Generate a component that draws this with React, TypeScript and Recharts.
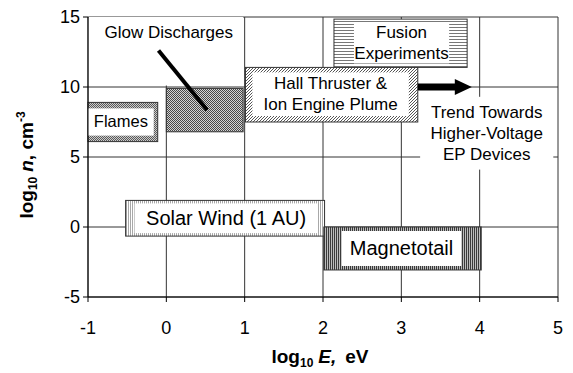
import React from 'react';
import {
  ComposedChart,
  Scatter,
  XAxis,
  YAxis,
  CartesianGrid,
  ReferenceArea,
  ReferenceLine,
  ReferenceDot,
  Label,
} from 'recharts';

const FONT = '"Liberation Sans", Arial, sans-serif';

const xTicks = [-1, 0, 1, 2, 3, 4, 5];
const yTicks = [-5, 0, 5, 10, 15];

// plasma regimes, extents in log10 E (eV) and log10 n (cm^-3)
const regimeKeys = ['flames', 'glow', 'hall', 'fusion', 'solar', 'magneto'];
const regimeLabels = [
  ['Flames'],
  [],
  ['Hall Thruster &', 'Ion Engine Plume'],
  ['Fusion', 'Experiments'],
  ['Solar Wind (1 AU)'],
  ['Magnetotail'],
];
const energyLo = [-1, 0, 1.01, 2.14, -0.52, 2.01];
const energyHi = [-0.11, 0.98, 3.21, 3.84, 2.02, 4.02];
const densityLo = [6.1, 6.8, 7.5, 11.4, -0.65, -3.07];
const densityHi = [8.9, 9.9, 11.4, 14.85, 1.9, 0];

// annotations
const glowLabel = 'Glow Discharges';
const glowLabelAt = { e: 0.03, n: 13.9 };
const glowBoxE = [-0.99, 0.98];
const glowBoxN = [10.1, 15];
const glowPointerE = [-0.1, 0.52];
const glowPointerN = [12.6, 8.35];

const trendLines = ['Trend Towards', 'Higher-Voltage', 'EP Devices'];
const trendBoxE = [3.24, 4.94];
const trendBoxN = [4.1, 9.3];
const trendArrowE = [3.21, 3.9];
const trendArrowN = [10, 10];

// styling per regime: pattern, inner white inset [l, t, r, b], font size
const boxStyle: Record<string, { pattern: string; inset: number[] | null; font: number }> = {
  flames: { pattern: 'dots', inset: [0, 6, 4, 6], font: 16.5 },
  glow: { pattern: 'checker', inset: null, font: 17 },
  hall: { pattern: 'diag', inset: [7, 5, 9, 6], font: 17 },
  fusion: { pattern: 'hlines', inset: [20, 4, 18, 4], font: 17 },
  solar: { pattern: 'vlight', inset: [9, 3, 7, 3], font: 20 },
  magneto: { pattern: 'vdark', inset: [18, 4, 20, 4], font: 20 },
};

function PatternDef({ id, kind }: { id: string; kind: string }) {
  if (kind === 'dots' || kind === 'checker') {
    const bg = kind === 'dots' ? '#cccccc' : '#d4d4d4';
    const fg = kind === 'dots' ? '#5a5a5a' : '#474747';
    return (
      <pattern id={id} width={2} height={2} patternUnits="userSpaceOnUse">
        <rect width={2} height={2} fill={bg} />
        <rect x={0} y={0} width={1} height={1} fill={fg} />
        <rect x={1} y={1} width={1} height={1} fill={fg} />
      </pattern>
    );
  }
  if (kind === 'diag') {
    return (
      <pattern id={id} width={3} height={3} patternUnits="userSpaceOnUse">
        <rect width={3} height={3} fill="#fff" />
        <path d="M-1,1 L1,-1 M0,3 L3,0 M2,4 L4,2" stroke="#555" strokeWidth={1} />
      </pattern>
    );
  }
  if (kind === 'hlines') {
    return (
      <pattern id={id} width={3} height={3} patternUnits="userSpaceOnUse">
        <rect width={3} height={3} fill="#fff" />
        <rect x={0} y={0} width={3} height={1} fill="#777" />
      </pattern>
    );
  }
  const dark = kind === 'vdark';
  return (
    <pattern id={id} width={2} height={2} patternUnits="userSpaceOnUse">
      <rect width={2} height={2} fill={dark ? '#bcbcbc' : '#fff'} />
      <rect x={0} y={0} width={1} height={2} fill={dark ? '#3a3a3a' : '#a8a8a8'} />
    </pattern>
  );
}

function textBlock(lines: string[], cx: number, cy: number, font: number, lh: number) {
  return lines.map((t, i) => (
    <text
      key={t}
      x={cx}
      y={cy + (i - (lines.length - 1) / 2) * lh + font * 0.33}
      textAnchor="middle"
      fontSize={font}
      fontFamily={FONT}
      fill="#000"
    >
      {t}
    </text>
  ));
}

function regimeShape(key: string, lines: string[]) {
  const st = boxStyle[key];
  return (p: any) => {
    const { x, y, width, height } = p;
    const pid = `pat-${key}`;
    let inner = null;
    if (st.inset) {
      const [l, t, r, b] = st.inset;
      const ix = x + l;
      const iy = y + t;
      const iw = width - l - r;
      const ih = height - t - b;
      inner = (
        <g>
          <rect x={ix} y={iy} width={iw} height={ih} fill="#fff" />
          {textBlock(lines, ix + iw / 2, iy + ih / 2, st.font, 21)}
        </g>
      );
    }
    return (
      <g>
        <defs>
          <PatternDef id={pid} kind={st.pattern} />
        </defs>
        <rect x={x} y={y} width={width} height={height} fill={`url(#${pid})`} stroke="#333" strokeWidth={1} />
        {inner}
      </g>
    );
  };
}

const anchorData = regimeKeys.map((k, i) => ({ e: (energyLo[i] + energyHi[i]) / 2, n: (densityLo[i] + densityHi[i]) / 2 }));

export default function App() {
  return (
    <div style={{ position: 'absolute', left: 0, top: 0, width: 573, height: 373, background: '#fff' }}>
      <ComposedChart
        width={573}
        height={373}
        margin={{ top: 17, right: 15, bottom: 46, left: 0 }}
        style={{ fontFamily: FONT }}
      >
        <CartesianGrid stroke="#333" strokeWidth={1} />
        <XAxis
          type="number"
          dataKey="e"
          domain={[-1, 5]}
          ticks={xTicks}
          interval={0}
          height={30}
          tickSize={5}
          tickMargin={19}
          axisLine={{ stroke: '#000' }}
          tickLine={{ stroke: '#000' }}
          tick={{ fontSize: 18, fill: '#000', fontFamily: FONT }}
        >
          <Label
            content={(props: any) => {
              const vb = props.viewBox || { x: 88, y: 297, width: 470 };
              return (
                <text x={vb.x + vb.width / 2 - 3} y={vb.y + 66} textAnchor="middle" fontSize={19} fontWeight="bold" fontFamily={FONT} fill="#000">
                  log
                  <tspan fontSize={12} dy={4}>10</tspan>
                  <tspan dy={-4} dx={5} fontStyle="italic">E,</tspan>
                  <tspan dx={9}>eV</tspan>
                </text>
              );
            }}
          />
        </XAxis>
        <YAxis
          type="number"
          dataKey="n"
          domain={[-5, 15]}
          ticks={yTicks}
          interval={0}
          width={88}
          tickSize={5}
          tickMargin={3}
          axisLine={{ stroke: '#000' }}
          tickLine={{ stroke: '#000' }}
          tick={{ fontSize: 18, fill: '#000', fontFamily: FONT }}
        >
          <Label
            content={() => (
              <text
                x={33}
                y={165}
                transform="rotate(-90 33 165)"
                textAnchor="middle"
                fontSize={19}
                fontWeight="bold"
                fontFamily={FONT}
                fill="#000"
              >
                log
                <tspan fontSize={12} dy={4}>10</tspan>
                <tspan dy={-4} dx={5} fontStyle="italic">n</tspan>
                <tspan>, cm</tspan>
                <tspan fontSize={12} dy={-8}>-3</tspan>
              </text>
            )}
          />
        </YAxis>

        <Scatter data={anchorData} dataKey="n" isAnimationActive={false} shape={() => <g />} />

        {/* white panel behind the glow discharge label */}
        <ReferenceArea
          x1={glowBoxE[0]}
          x2={glowBoxE[1]}
          y1={glowBoxN[0]}
          y2={glowBoxN[1]}
          fill="#fff"
          fillOpacity={1}
          stroke="none"
        />

        {regimeKeys.map((k, i) => (
          <ReferenceArea
            key={k}
            x1={energyLo[i]}
            x2={energyHi[i]}
            y1={densityLo[i]}
            y2={densityHi[i]}
            shape={regimeShape(k, regimeLabels[i])}
          />
        ))}

        <ReferenceDot
          x={glowLabelAt.e}
          y={glowLabelAt.n}
          shape={(p: any) => <g>{textBlock([glowLabel], p.cx, p.cy, 17, 21)}</g>}
        />
        <ReferenceLine
          segment={[
            { x: glowPointerE[0], y: glowPointerN[0] },
            { x: glowPointerE[1], y: glowPointerN[1] },
          ]}
          stroke="#000"
          strokeWidth={4}
        />

        <ReferenceArea
          x1={trendBoxE[0]}
          x2={trendBoxE[1]}
          y1={trendBoxN[0]}
          y2={trendBoxN[1]}
          shape={(p: any) => (
            <g>
              <rect x={p.x} y={p.y} width={p.width} height={p.height} fill="#fff" />
              {textBlock(trendLines, p.x + p.width / 2, p.y + p.height / 2, 17, 21)}
            </g>
          )}
        />
        <ReferenceLine
          segment={[
            { x: trendArrowE[0], y: trendArrowN[0] },
            { x: trendArrowE[1], y: trendArrowN[1] },
          ]}
          shape={(p: any) => {
            const { x1, y1, x2 } = p;
            const head = 17;
            return (
              <g>
                <rect x={x1} y={y1 - 3.5} width={x2 - x1 - head + 1} height={7} fill="#000" />
                <polygon points={`${x2 - head},${y1 - 8} ${x2},${y1} ${x2 - head},${y1 + 8}`} fill="#000" />
              </g>
            );
          }}
        />
      </ComposedChart>
    </div>
  );
}
